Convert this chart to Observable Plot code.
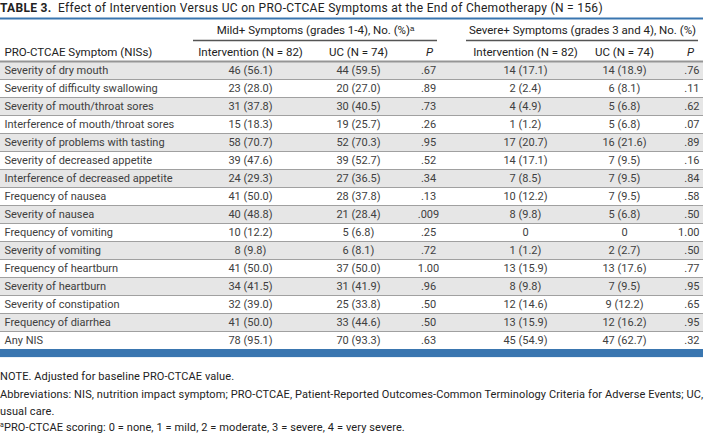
<!DOCTYPE html>
<html>
<head>
<meta charset="utf-8">
<script src="https://cdn.jsdelivr.net/npm/d3@7"></script>
<script src="https://cdn.jsdelivr.net/npm/@observablehq/plot@0.6"></script>
<style>
  html, body { margin: 0; padding: 0; background: #fff; }
  body { width: 710px; font-family: Roboto, sans-serif; color: #333; }
  #title { height: 17px; line-height: 17px; font-size: 12px; letter-spacing: 0.3px; color: #222; white-space: nowrap; }
  #title b { font-weight: bold; }
  #notes { width: 703px; padding-top: 12px; font-size: 11px; letter-spacing: 0.1px; color: #222; border-bottom: 2px solid #3a76b0; }
  #notes div { line-height: 16.5px; white-space: nowrap; }
  #notes sup { font-size: 7px; vertical-align: 4px; line-height: 0; }
  svg { display: block; }
</style>
</head>
<body>
<div id="title"><b>TABLE 3.</b>&nbsp; Effect of Intervention Versus UC on PRO-CTCAE Symptoms at the End of Chemotherapy (N = 156)</div>
<div id="chart"></div>
<div id="notes">
  <div style="margin-bottom:1.5px">NOTE. Adjusted for baseline PRO-CTCAE value.</div>
  <div>Abbreviations: NIS, nutrition impact symptom; PRO-CTCAE, Patient-Reported Outcomes-Common Terminology Criteria for Adverse Events; UC,</div>
  <div>usual care.</div>
  <div style="line-height:16px"><sup>a</sup>PRO-CTCAE scoring: 0 = none, 1 = mild, 2 = moderate, 3 = severe, 4 = very severe.</div>
</div>
<script>
// ---- data ----
const symptoms = [
  "Severity of dry mouth",
  "Severity of difficulty swallowing",
  "Severity of mouth/throat sores",
  "Interference of mouth/throat sores",
  "Severity of problems with tasting",
  "Severity of decreased appetite",
  "Interference of decreased appetite",
  "Frequency of nausea",
  "Severity of nausea",
  "Frequency of vomiting",
  "Severity of vomiting",
  "Frequency of heartburn",
  "Severity of heartburn",
  "Severity of constipation",
  "Frequency of diarrhea",
  "Any NIS"
];
const mildIntervention = ["46 (56.1)","23 (28.0)","31 (37.8)","15 (18.3)","58 (70.7)","39 (47.6)","24 (29.3)","41 (50.0)","40 (48.8)","10 (12.2)","8 (9.8)","41 (50.0)","34 (41.5)","32 (39.0)","41 (50.0)","78 (95.1)"];
const mildUC = ["44 (59.5)","20 (27.0)","30 (40.5)","19 (25.7)","52 (70.3)","39 (52.7)","27 (36.5)","28 (37.8)","21 (28.4)","5 (6.8)","6 (8.1)","37 (50.0)","31 (41.9)","25 (33.8)","33 (44.6)","70 (93.3)"];
const mildP = [".67",".89",".73",".26",".95",".52",".34",".13",".009",".25",".72","1.00",".96",".50",".50",".63"];
const severeIntervention = ["14 (17.1)","2 (2.4)","4 (4.9)","1 (1.2)","17 (20.7)","14 (17.1)","7 (8.5)","10 (12.2)","8 (9.8)","0","1 (1.2)","13 (15.9)","8 (9.8)","12 (14.6)","13 (15.9)","45 (54.9)"];
const severeUC = ["14 (18.9)","6 (8.1)","5 (6.8)","5 (6.8)","16 (21.6)","7 (9.5)","7 (9.5)","7 (9.5)","5 (6.8)","0","2 (2.7)","13 (17.6)","7 (9.5)","9 (12.2)","12 (16.2)","47 (62.7)"];
const severeP = [".76",".11",".62",".07",".89",".16",".84",".58",".50","1.00",".50",".77",".95",".65",".95",".32"];
const groupHeaders = ["Mild+ Symptoms (grades 1-4), No. (%)\u1D43", "Severe+ Symptoms (grades 3 and 4), No. (%)"];
const columnHeaders = ["PRO-CTCAE Symptom (NISs)", "Intervention (N = 82)", "UC (N = 74)", "P", "Intervention (N = 82)", "UC (N = 74)", "P"];

// ---- layout (styles / positions, not data) ----
const colLayout = [
  {x: 4,   anchor: "start"},
  {x: 250, anchor: "middle"},
  {x: 358, anchor: "middle"},
  {x: 428, anchor: "middle"},
  {x: 525, anchor: "middle"},
  {x: 624, anchor: "middle"},
  {x: 699, anchor: "end"}
];
const headerLayout = [
  {x: 4, anchor: "start"}, {x: 250, anchor: "middle"}, {x: 358, anchor: "middle"}, {x: 429, anchor: "middle"},
  {x: 525, anchor: "middle"}, {x: 624, anchor: "middle"}, {x: 690, anchor: "middle"}
];
const groupLayout = [{x1: 193, x2: 437}, {x1: 466, x2: 698}];
const Y_GROUP = -2.22, Y_UNDERLINE = -1.67, Y_HEADER = -1.0, Y_TOPLINE = -2.89;
const blue = "#3a76b0";
const HEAD_FONT = 11.5, BODY_FONT = 11;

// ---- build table ----
const columns = [symptoms, mildIntervention, mildUC, mildP, severeIntervention, severeUC, severeP];
const cells = [];
columns.forEach((vals, c) => vals.forEach((v, r) => cells.push({row: r, col: c, text: v})));
const headers = columnHeaders.map((t, c) => ({col: c, text: t, italic: t === "P"}));
const groups = groupHeaders.map((t, g) => ({text: t, ...groupLayout[g]}));
const rowIdx = symptoms.map((_, i) => i);
const shaded = rowIdx.filter(i => i % 2 === 0);
const separators = rowIdx.map(i => i + 0.5).slice(0, -1);
const last = symptoms.length - 1;

const cellText = (anchor) => Plot.text(cells.filter(d => colLayout[d.col].anchor === anchor), {
  x: d => colLayout[d.col].x, y: "row", text: "text",
  textAnchor: anchor, fill: "#404040", fontSize: BODY_FONT
});
const headText = (anchor, italic) => Plot.text(headers.filter(d => headerLayout[d.col].anchor === anchor && d.italic === italic), {
  x: d => headerLayout[d.col].x, y: () => Y_HEADER, text: "text",
  textAnchor: anchor, fill: "#222", fontSize: HEAD_FONT, fontStyle: italic ? "italic" : "normal"
});

const chart = Plot.plot({
  width: 710,
  height: 340,
  marginLeft: 0, marginRight: 7, marginTop: 0, marginBottom: 0,
  x: {domain: [0, 703], axis: null},
  y: {domain: [-53 / 18, 287 / 18], range: [0, 340], axis: null},
  style: {fontFamily: "Roboto, sans-serif", fontSize: BODY_FONT + "px", background: "#fff", overflow: "visible"},
  marks: [
    Plot.rect(shaded, {y1: d => d - 0.5, y2: d => d + 0.5, fill: "#e6e6e6"}),
    Plot.ruleY(separators, {stroke: "#a0a0a0", strokeWidth: 1}),
    Plot.ruleY([-0.5], {stroke: "#959595", strokeWidth: 2}),
    Plot.ruleY([Y_TOPLINE], {stroke: blue, strokeWidth: 2}),
    Plot.rect([last], {y1: d => d + 0.5, y2: d => d + 0.95, fill: blue}),
    Plot.ruleY(groups, {y: () => Y_UNDERLINE, x1: "x1", x2: "x2", stroke: "#555", strokeWidth: 1.5}),
    Plot.text(groups, {x: d => (d.x1 + d.x2) / 2, y: () => Y_GROUP, text: "text", fill: "#222", fontSize: HEAD_FONT}),
    headText("start", false),
    headText("middle", false),
    headText("middle", true),
    cellText("start"),
    cellText("middle"),
    cellText("end")
  ]
});
document.getElementById("chart").append(chart);
</script>
</body>
</html>
